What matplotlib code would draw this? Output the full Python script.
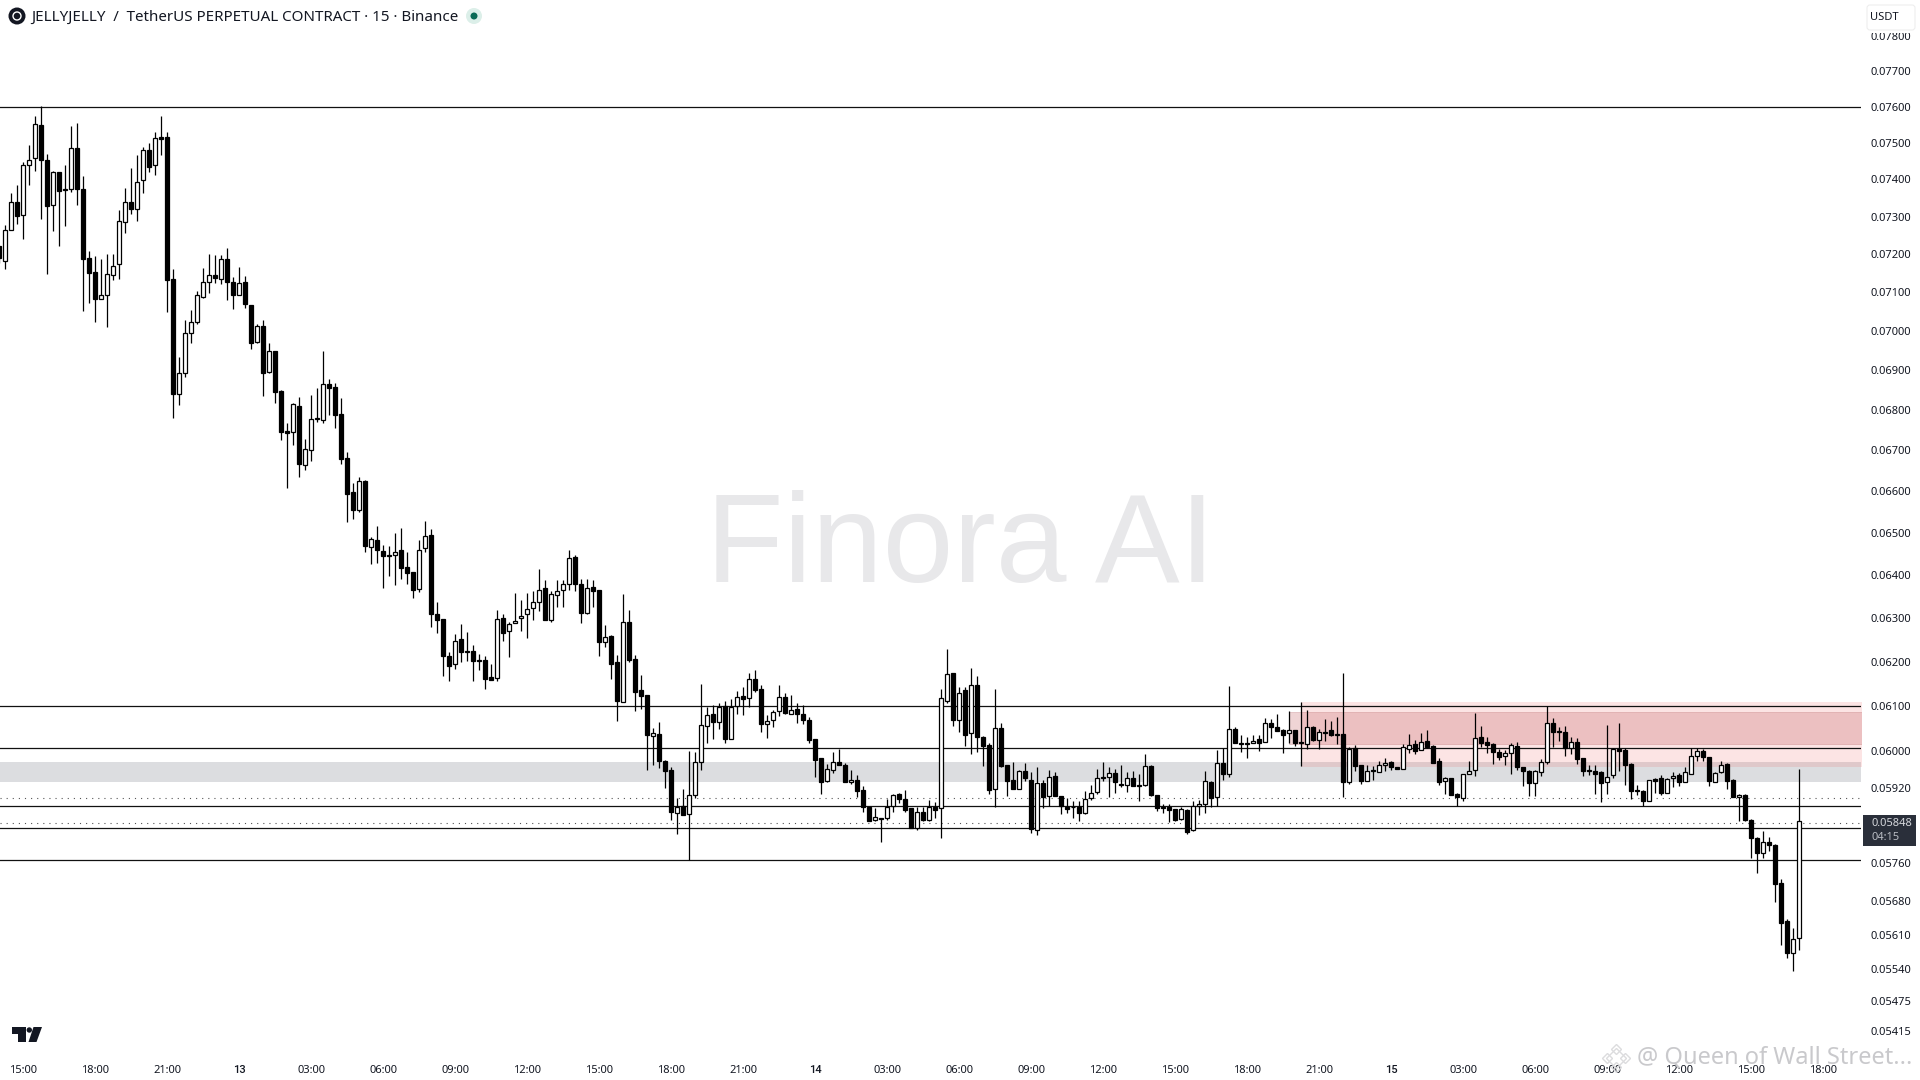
import matplotlib
matplotlib.use('Agg')
import matplotlib.pyplot as plt
import numpy as np
from matplotlib.patches import Rectangle, Circle, Polygon, FancyBboxPatch
from matplotlib.ticker import NullLocator

# prices are in units of 0.00001 USDT
opens = [
    7221, 7183, 7263, 7340, 7303, 7438, 7459, 7548, 7454, 7332,
    7419, 7373, 7375, 7487, 7375, 7190, 7152, 7083, 7094, 7144,
    7173, 7284, 7338, 7321, 7397, 7479, 7438, 7515, 7517, 7134,
    6839, 6894, 6996, 7023, 7089, 7128, 7144, 7134, 7186, 7128,
    7093, 7126, 7066, 6972, 7014, 6896, 6950, 6847, 6748, 6745,
    6811, 6665, 6700, 6777, 6776, 6864, 6857, 6791, 6681, 6598,
    6556, 6625, 6468, 6483, 6458, 6448, 6447, 6459, 6419, 6407,
    6369, 6464, 6495, 6309, 6298, 6213, 6195, 6252, 6225, 6224,
    6204, 6204, 6165, 6164, 6300, 6270, 6290, 6300, 6309, 6323,
    6337, 6370, 6297, 6355, 6365, 6379, 6443, 6381, 6313, 6374,
    6366, 6245, 6259, 6199, 6110, 6291, 6206, 6136, 6125, 6035,
    6038, 5978, 5959, 5867, 5881, 5863, 5906, 5976, 6056, 6083,
    6066, 6100, 6028, 6100, 6123, 6118, 6161, 6138, 6061, 6069,
    6089, 6122, 6084, 6095, 6082, 6070, 6027, 5985, 5935, 5959,
    5976, 5970, 5933, 5937, 5915, 5880, 5851, 5855, 5855, 5881,
    5907, 5896, 5877, 5833, 5868, 5851, 5880, 5876, 6113, 6174,
    6070, 6136, 6040, 6148, 6032, 6014, 5917, 6051, 5970, 5938,
    5919, 5957, 5937, 5829, 5932, 5903, 5946, 5902, 5880, 5880,
    5880, 5866, 5898, 5911, 5944, 5943, 5952, 5928, 5926, 5941,
    5927, 5926, 5968, 5904, 5878, 5880, 5875, 5853, 5872, 5829,
    5882, 5886, 5933, 5900, 5974, 5950, 6049, 6019, 6019, 6019,
    6027, 6021, 6062, 6055, 6047, 6040, 6047, 6020, 6017, 6053,
    6026, 6044, 6047, 6038, 6038, 5934, 6007, 5970, 5936, 5959,
    5954, 5970, 5976, 5965, 5961, 6006, 6017, 6004, 6024, 6012,
    5978, 5935, 5941, 5908, 5898, 5950, 5959, 6031, 6020, 6017,
    5999, 5989, 5996, 6013, 5967, 5957, 5930, 5954, 5976, 6064,
    6046, 6042, 6007, 6020, 5985, 5960, 5957, 5954, 5933, 5949,
    6006, 6003, 5973, 5916, 5914, 5893, 5940, 5941, 5910, 5941,
    5948, 5934, 5951, 5989, 6000, 5987, 5934, 5954, 5972, 5938,
    5900, 5905, 5851, 5812, 5781, 5805, 5798, 5717, 5638, 5573, 5604]

highs = [
    7221, 7278, 7362, 7384, 7448, 7495, 7574, 7602, 7468, 7422,
    7419, 7439, 7547, 7554, 7408, 7208, 7195, 7187, 7201, 7201,
    7317, 7376, 7432, 7466, 7489, 7498, 7531, 7574, 7530, 7161,
    6934, 7027, 7053, 7104, 7163, 7200, 7197, 7197, 7215, 7140,
    7165, 7142, 7068, 7019, 7027, 6968, 6950, 6851, 6768, 6818,
    6832, 6727, 6837, 6856, 6950, 6877, 6867, 6831, 6695, 6620,
    6636, 6628, 6490, 6517, 6471, 6469, 6501, 6512, 6455, 6407,
    6483, 6529, 6511, 6337, 6298, 6223, 6265, 6286, 6268, 6239,
    6218, 6213, 6195, 6319, 6310, 6292, 6360, 6343, 6358, 6364,
    6416, 6389, 6364, 6389, 6389, 6460, 6448, 6391, 6391, 6389,
    6366, 6285, 6261, 6216, 6357, 6319, 6216, 6170, 6125, 6051,
    6065, 5981, 5965, 5899, 5919, 6002, 5999, 6150, 6099, 6103,
    6107, 6113, 6116, 6135, 6144, 6176, 6182, 6147, 6081, 6092,
    6148, 6131, 6125, 6107, 6102, 6076, 6027, 5985, 5973, 5999,
    6006, 5974, 5959, 5949, 5925, 5880, 5877, 5855, 5896, 5908,
    5910, 5916, 5877, 5879, 5880, 5894, 5889, 6140, 6230, 6174,
    6144, 6143, 6187, 6168, 6034, 6018, 6139, 6064, 5970, 5976,
    5959, 5974, 5954, 5967, 5938, 5959, 5956, 5902, 5898, 5891,
    5891, 5914, 5927, 5961, 5977, 5965, 5961, 5971, 5954, 5957,
    5951, 5994, 5970, 5904, 5886, 5886, 5875, 5878, 5874, 5893,
    5894, 5958, 5936, 6003, 6007, 6146, 6053, 6036, 6031, 6036,
    6036, 6074, 6071, 6083, 6049, 6090, 6047, 6110, 6092, 6056,
    6049, 6072, 6068, 6077, 6174, 6009, 6014, 5970, 5971, 5968,
    5978, 5985, 5980, 5967, 6016, 6038, 6025, 6040, 6047, 6014,
    5985, 5943, 5941, 5909, 5951, 5978, 6086, 6056, 6031, 6018,
    6005, 6003, 6018, 6021, 5967, 5959, 5959, 5983, 6101, 6073,
    6053, 6056, 6033, 6029, 5985, 5970, 5970, 5958, 6058, 6007,
    6062, 6008, 5974, 5927, 5916, 5938, 5941, 5949, 5941, 5954,
    5952, 5965, 6007, 6007, 6005, 5987, 5956, 5978, 5975, 5939,
    5908, 5907, 5853, 5814, 5828, 5815, 5799, 5726, 5642, 5623, 5962]

lows = [
    7176, 7161, 7263, 7281, 7239, 7385, 7423, 7292, 7147, 7262,
    7222, 7275, 7367, 7331, 7052, 7071, 7024, 7083, 7011, 7132,
    7134, 7257, 7306, 7289, 7364, 7420, 7412, 7466, 7049, 6779,
    6812, 6884, 6970, 7017, 7086, 7098, 7125, 7121, 7079, 7057,
    7093, 7059, 6955, 6968, 6836, 6894, 6817, 6726, 6609, 6713,
    6636, 6651, 6675, 6771, 6769, 6787, 6756, 6668, 6527, 6534,
    6551, 6454, 6428, 6430, 6371, 6398, 6377, 6392, 6381, 6348,
    6362, 6456, 6281, 6267, 6169, 6158, 6185, 6200, 6203, 6158,
    6182, 6140, 6159, 6158, 6249, 6212, 6290, 6271, 6255, 6296,
    6318, 6297, 6291, 6326, 6326, 6367, 6364, 6290, 6310, 6327,
    6214, 6235, 6161, 6068, 6110, 6201, 6090, 6095, 5959, 5970,
    5964, 5921, 5851, 5821, 5861, 5765, 5898, 5959, 6018, 6027,
    6050, 6019, 6027, 6084, 6081, 6099, 6133, 6044, 6030, 6055,
    6079, 6084, 6084, 6064, 6060, 6019, 5945, 5908, 5934, 5952,
    5970, 5934, 5928, 5900, 5868, 5848, 5850, 5804, 5851, 5869,
    5887, 5869, 5833, 5830, 5850, 5850, 5855, 5813, 6108, 6056,
    6043, 6012, 5994, 5999, 5968, 5907, 5878, 5965, 5903, 5919,
    5917, 5936, 5823, 5819, 5876, 5881, 5903, 5864, 5867, 5855,
    5850, 5865, 5894, 5907, 5936, 5901, 5910, 5922, 5912, 5925,
    5893, 5925, 5903, 5871, 5867, 5846, 5848, 5851, 5821, 5828,
    5862, 5867, 5878, 5881, 5938, 5943, 6019, 5999, 5986, 6018,
    6002, 6021, 6030, 6045, 5997, 6018, 6012, 5969, 6006, 6024,
    6006, 6024, 6034, 6016, 5900, 5929, 5958, 5929, 5936, 5938,
    5954, 5958, 5959, 5961, 5961, 5996, 5995, 6003, 6007, 5974,
    5927, 5907, 5904, 5881, 5891, 5950, 5946, 6010, 5997, 5973,
    5981, 5971, 5951, 5960, 5925, 5903, 5903, 5947, 5972, 6010,
    6022, 5989, 5994, 5973, 5946, 5949, 5908, 5889, 5908, 5941,
    5958, 5927, 5896, 5905, 5881, 5893, 5910, 5905, 5909, 5922,
    5925, 5934, 5951, 5978, 5978, 5925, 5934, 5952, 5919, 5900,
    5850, 5850, 5771, 5739, 5771, 5786, 5678, 5589, 5562, 5536, 5579]

closes = [
    7190, 7263, 7340, 7302, 7438, 7454, 7551, 7454, 7329, 7419,
    7369, 7372, 7487, 7375, 7188, 7151, 7083, 7092, 7147, 7170,
    7287, 7338, 7321, 7394, 7479, 7434, 7512, 7511, 7133, 6841,
    6894, 6996, 7024, 7092, 7128, 7144, 7138, 7186, 7127, 7093,
    7125, 7070, 6970, 7014, 6894, 6950, 6845, 6746, 6744, 6815,
    6668, 6703, 6777, 6779, 6864, 6856, 6788, 6680, 6595, 6556,
    6626, 6470, 6485, 6461, 6446, 6446, 6456, 6418, 6406, 6367,
    6461, 6492, 6311, 6297, 6213, 6192, 6249, 6223, 6223, 6203,
    6203, 6162, 6160, 6298, 6267, 6288, 6295, 6306, 6321, 6337,
    6367, 6297, 6356, 6364, 6379, 6440, 6381, 6313, 6371, 6364,
    6245, 6258, 6196, 6112, 6291, 6204, 6133, 6124, 6037, 6040,
    5978, 5958, 5869, 5879, 5862, 5906, 5976, 6058, 6080, 6066,
    6099, 6028, 6098, 6122, 6116, 6161, 6137, 6061, 6067, 6087,
    6122, 6086, 6093, 6084, 6069, 6026, 5982, 5934, 5961, 5976,
    5971, 5934, 5937, 5914, 5878, 5848, 5857, 5854, 5880, 5906,
    5897, 5873, 5833, 5868, 5851, 5880, 5873, 6118, 6172, 6070,
    6131, 6037, 6149, 6033, 6013, 5916, 6051, 5968, 5936, 5919,
    5957, 5941, 5831, 5930, 5901, 5945, 5903, 5881, 5875, 5879,
    5866, 5896, 5910, 5942, 5942, 5952, 5933, 5927, 5941, 5925,
    5925, 5968, 5904, 5876, 5876, 5873, 5852, 5874, 5826, 5882,
    5886, 5935, 5899, 5974, 5950, 6049, 6019, 6017, 6017, 6024,
    6019, 6062, 6055, 6045, 6037, 6047, 6019, 6019, 6053, 6026,
    6042, 6041, 6036, 6037, 5934, 6005, 5969, 5936, 5958, 5958,
    5970, 5975, 5966, 5961, 6009, 6015, 6002, 6021, 6010, 5975,
    5934, 5941, 5906, 5900, 5950, 5958, 6030, 6019, 6014, 5999,
    5988, 5996, 6015, 5967, 5958, 5930, 5957, 5976, 6064, 6044,
    6044, 6007, 6020, 5983, 5958, 5957, 5951, 5930, 5945, 6006,
    6002, 5970, 5914, 5914, 5893, 5937, 5936, 5909, 5939, 5947,
    5934, 5954, 5989, 6000, 5988, 5936, 5952, 5971, 5936, 5901,
    5904, 5851, 5813, 5781, 5805, 5798, 5716, 5635, 5573, 5602, 5848]

level_lines = [0.0760, 0.0610, 0.06007, 0.05881, 0.05833, 0.05765]
dotted_lines = [0.05899, 0.05844]
grey_band = (0.05933, 0.05977)
pink_outer = (0.05967, 0.06109)
pink_inner = (0.06016, 0.06088)

price_ticks = [0.078, 0.077, 0.076, 0.075, 0.074, 0.073, 0.072, 0.071, 0.070, 0.069,
               0.068, 0.067, 0.066, 0.065, 0.064, 0.063, 0.062, 0.061, 0.060, 0.0592,
               0.0576, 0.0568, 0.0561, 0.0554, 0.05475, 0.05415]
time_ticks = ['15:00', '18:00', '21:00', '13', '03:00', '06:00', '09:00', '12:00', '15:00',
              '18:00', '21:00', '14', '03:00', '06:00', '09:00', '12:00', '15:00', '18:00',
              '21:00', '15', '03:00', '06:00', '09:00', '12:00', '15:00', '18:00']

plt.rcParams['font.family'] = ['Noto Sans', 'DejaVu Sans']
TEXT = '#131722'

o = np.array(opens) / 1e5
h = np.array(highs) / 1e5
l = np.array(lows) / 1e5
c = np.array(closes) / 1e5
x = np.arange(len(o))
up = c >= o

fig = plt.figure(figsize=(19.2, 10.8), dpi=100)
ax = fig.add_axes([0, 1 - 1050 / 1080, 1861 / 1920, 1050 / 1080])
ax.set_yscale('log')
ax.set_xlim(0.11, 310.28)
ax.set_ylim(0.05378, 0.07903)
for s in ax.spines.values():
    s.set_visible(False)


def px(xp, yp):
    return xp / 1920, 1 - yp / 1080


###############################################################################################
# zones and levels

ax.text(*px(960, 549), 'Finora AI', transform=fig.transFigure, family='Liberation Sans', fontsize=91.5,
        color='#e8e8ea', ha='center', va='center', zorder=0.5)
ax.axhspan(grey_band[0], grey_band[1], color='#dcdde0', lw=0, zorder=1)
ax.fill_between([217, 311], pink_outer[0], pink_outer[1], color='#f06a6a', alpha=0.18, lw=0, zorder=1.1)
ax.fill_between([215, 311], pink_inner[0], pink_inner[1], facecolor='#c0555a', alpha=0.25,
                edgecolor='#a04045', lw=0.6, zorder=1.2)
for v in level_lines:
    ax.axhline(v, color='#111111', lw=0.9, zorder=2)
for v in dotted_lines:
    ax.axhline(v, color='#555555', lw=0.8, linestyle=(0, (1, 4.5)), zorder=2)

###############################################################################################
# candles

ax.vlines(x, l, h, color='black', lw=0.9, zorder=3)
ax.bar(x[up], (c - o)[up], bottom=o[up], width=0.62, facecolor='white', edgecolor='black', lw=0.9, zorder=4)
ax.bar(x[~up], (o - c)[~up], bottom=c[~up], width=0.62, facecolor='black', edgecolor='black', lw=0.9, zorder=4)

###############################################################################################
# axes

ax.yaxis.tick_right()
ax.yaxis.set_major_locator(plt.FixedLocator(price_ticks))
ax.yaxis.set_minor_locator(NullLocator())
ax.set_yticklabels(['%.5f' % v for v in price_ticks])
ax.tick_params(axis='y', length=0, pad=7, labelsize=8, labelcolor=TEXT)

ax.set_xticks(np.arange(len(time_ticks)) * 12 + 4)
ax.set_xticklabels(time_ticks)
ax.tick_params(axis='x', length=0, pad=11, labelsize=8, labelcolor=TEXT)
for t in ax.get_xticklabels():
    if len(t.get_text()) == 2:
        t.set_family('Roboto')
        t.set_fontweight('medium')

###############################################################################################
# header, price tag and watermarks

fig.add_artist(Circle((17, 1080 - 16), 8.5, transform=None, facecolor='#131722', edgecolor='none'))
fig.add_artist(Circle((17, 1080 - 16), 4, transform=None, facecolor='none', edgecolor='white', lw=1))
fig.text(*px(31, 17), 'JELLYJELLY  /  TetherUS PERPETUAL CONTRACT · 15 · Binance', fontsize=10.9,
         color=TEXT, ha='left', va='center')
fig.add_artist(Circle((474, 1080 - 16), 8, transform=None, facecolor='#dcefe9', edgecolor='none'))
fig.add_artist(Circle((474, 1080 - 16), 3.5, transform=None, facecolor='#0b6b57', edgecolor='none'))

fig.add_artist(Rectangle((1863, 1080 - 33), 57, 33, transform=None, facecolor='white', edgecolor='none', zorder=4))
fig.add_artist(FancyBboxPatch((1867, 1080 - 30), 48, 25, boxstyle='round,pad=0,rounding_size=3', transform=None,
                              facecolor='white', edgecolor='#eeeeee', lw=0.8, zorder=5))
fig.text(*px(1870, 17), 'USDT', fontsize=8, color=TEXT, ha='left', va='center', zorder=6)

fig.add_artist(Rectangle((1863, 1080 - 846), 53, 31, transform=None, facecolor='#2a2f3a', edgecolor='none', zorder=5))
fig.text(*px(1871, 823), '0.05848', fontsize=8, color='#d5d7dc', ha='left', va='center', zorder=6)
fig.text(*px(1871, 838), '04:15', fontsize=8, color='#b8bbc2', ha='left', va='center', zorder=6)

# tradingview logo
fig.add_artist(Polygon([(12, 1080 - 1027), (26, 1080 - 1027), (26, 1080 - 1042), (18, 1080 - 1042),
                        (18, 1080 - 1033.5), (12, 1080 - 1033.5)], transform=None, facecolor='#131722', edgecolor='none'))
fig.add_artist(Circle((29.3, 1080 - 1030), 2.7, transform=None, facecolor='#131722', edgecolor='none'))
fig.add_artist(Polygon([(33.5, 1080 - 1027), (42, 1080 - 1027), (36.5, 1080 - 1042), (28.5, 1080 - 1042)],
                       transform=None, facecolor='#131722', edgecolor='none'))

fig.text(*px(1637, 1058), '@ Queen of Wall Street...', fontsize=17, color='#c9c9cc', ha='left', va='center', zorder=7)
for dx, dy, size in [(1616, 1058, 10), (1607, 1058, 5), (1625, 1058, 5), (1616, 1067, 5), (1616, 1049, 5)]:
    fig.add_artist(plt.Line2D([dx], [1080 - dy], transform=None, marker='D', markersize=size, markerfacecolor='none',
                              markeredgecolor='#dcdcde', markeredgewidth=1, zorder=7))

fig.savefig('out.png', dpi=100)
